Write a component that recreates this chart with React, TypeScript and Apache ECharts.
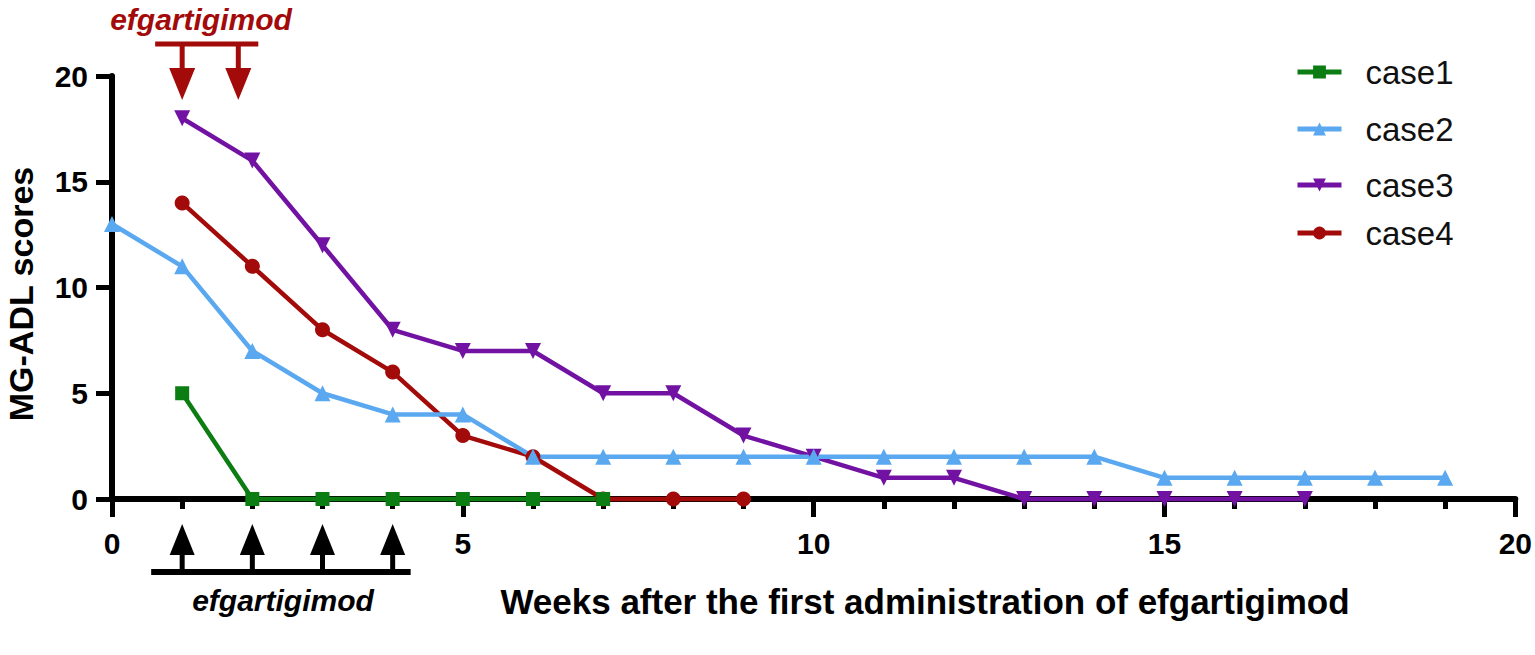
import React, { useEffect, useRef } from "react";
import * as echarts from "echarts";

const weeks1 = [1, 2, 3, 4, 5, 6, 7];
const case1 = [5, 0, 0, 0, 0, 0, 0];
const weeks2 = [0, 1, 2, 3, 4, 5, 6, 7, 8, 9, 10, 11, 12, 13, 14, 15, 16, 17, 18, 19];
const case2 = [13, 11, 7, 5, 4, 4, 2, 2, 2, 2, 2, 2, 2, 2, 2, 1, 1, 1, 1, 1];
const weeks3 = [1, 2, 3, 4, 5, 6, 7, 8, 9, 10, 11, 12, 13, 14, 15, 16, 17];
const case3 = [18, 16, 12, 8, 7, 7, 5, 5, 3, 2, 1, 1, 0, 0, 0, 0, 0];
const weeks4 = [1, 2, 3, 4, 5, 6, 7, 8, 9];
const case4 = [14, 11, 8, 6, 3, 2, 0, 0, 0];

const seriesNames = ["case1", "case2", "case3", "case4"];
const redArrowWeeks = [1, 1.8];
const blackArrowWeeks = [1, 2, 3, 4];

const FONT = "'Liberation Sans', Arial, sans-serif";
const GREEN = "#0b7d12";
const BLUE = "#5aa8f0";
const PURPLE = "#7212a2";
const RED = "#a30a0a";

const pairs = (xs: number[], ys: number[]) => xs.map((x, i) => [x, ys[i]]);

export default function App() {
  const ref = useRef<HTMLDivElement>(null);
  useEffect(() => {
    document.body.style.margin = "0";
    const chart = echarts.init(ref.current!, null, { renderer: "svg" });
    const mk = (name: string, xs: number[], ys: number[], color: string, symbol: string, size: number, rot = 0) => ({
      name,
      type: "line",
      data: pairs(xs, ys),
      clip: false,
      symbol,
      symbolSize: size,
      symbolRotate: rot,
      showAllSymbol: true,
      lineStyle: { color, width: 4.5 },
      itemStyle: { color },
    });
    const legendY = [72, 129, 185, 233];
    const labelStyle = { fontFamily: FONT, fontSize: 30, fontWeight: "bold", color: "#000" };
    chart.setOption({
      animation: false,
      grid: { left: 112, right: 18, top: 76, bottom: 156 },
      legend: seriesNames.map((n, i) => ({
        data: [n],
        orient: "vertical",
        left: 1290,
        top: legendY[i] - 22,
        itemWidth: 44,
        itemHeight: 16,
        lineStyle: { width: 5 },
        textStyle: { fontFamily: FONT, fontSize: 33, lineHeight: 34, color: "#111", padding: [0, 0, 0, 19] },
      })),
      xAxis: {
        type: "value",
        min: 0,
        max: 20,
        interval: 5,
        splitLine: { show: false },
        axisLine: { lineStyle: { color: "#000", width: 6 } },
        axisTick: { length: 18, lineStyle: { color: "#000", width: 5 } },
        minorTick: { show: true, splitNumber: 5, length: 10, lineStyle: { color: "#000", width: 5 } },
        axisLabel: { margin: 29, ...labelStyle },
      },
      yAxis: {
        type: "value",
        min: 0,
        max: 20,
        interval: 5,
        splitLine: { show: false },
        axisLine: { show: true, lineStyle: { color: "#000", width: 6 } },
        axisTick: { show: true, length: 16, lineStyle: { color: "#000", width: 5 } },
        axisLabel: { margin: 24, ...labelStyle },
      },
      series: [
        mk("case4", weeks4, case4, RED, "circle", 15),
        mk("case3", weeks3, case3, PURPLE, "triangle", 16, 180),
        mk("case2", weeks2, case2, BLUE, "triangle", 16),
        mk("case1", weeks1, case1, GREEN, "rect", 14),
      ],
    });

    const px = (x: number) => chart.convertToPixel({ gridIndex: 0 }, [x, 0])[0];
    const top = chart.convertToPixel({ gridIndex: 0 }, [0, 20])[1];
    const base = chart.convertToPixel({ gridIndex: 0 }, [0, 0])[1];
    const g: any[] = [];
    // top red annotation
    const rBarY = top - 32;
    const rx = redArrowWeeks.map(px);
    g.push({ type: "rect", shape: { x: rx[0] - 27, y: rBarY - 2.5, width: rx[rx.length - 1] - rx[0] + 47, height: 5 }, style: { fill: RED } });
    rx.forEach((x) => {
      g.push({ type: "rect", shape: { x: x - 2.5, y: rBarY, width: 5, height: 26 }, style: { fill: RED } });
      g.push({ type: "polygon", shape: { points: [[x - 13, rBarY + 24], [x + 13, rBarY + 24], [x, rBarY + 56]] }, style: { fill: RED } });
    });
    g.push({
      type: "text",
      x: 201,
      y: 19,
      style: { text: "efgartigimod", fill: RED, font: `italic bold 30px ${FONT}`, align: "center", verticalAlign: "middle" },
    });
    // bottom black annotation
    const bx = blackArrowWeeks.map(px);
    const bBarY = base + 73;
    g.push({ type: "rect", shape: { x: bx[0] - 31, y: bBarY - 3, width: bx[bx.length - 1] - bx[0] + 49, height: 6 }, style: { fill: "#000" } });
    bx.forEach((x) => {
      g.push({ type: "rect", shape: { x: x - 2.5, y: base + 50, width: 5, height: 23 }, style: { fill: "#000" } });
      g.push({ type: "polygon", shape: { points: [[x - 12.5, base + 56], [x + 12.5, base + 56], [x, base + 25]] }, style: { fill: "#000" } });
    });
    g.push({
      type: "text",
      x: 283,
      y: base + 101,
      style: { text: "efgartigimod", fill: "#000", font: `italic bold 30px ${FONT}`, align: "center", verticalAlign: "middle" },
    });
    g.push({
      type: "text",
      x: 925,
      y: 601,
      style: { text: "Weeks after the first administration of efgartigimod", fill: "#000", font: `bold 35px ${FONT}`, align: "center", verticalAlign: "middle" },
    });
    g.push({
      type: "text",
      x: 21,
      y: 294,
      rotation: Math.PI / 2,
      style: { text: "MG-ADL scores", fill: "#000", font: `bold 34px ${FONT}`, align: "center", verticalAlign: "middle" },
    });
    chart.setOption({ graphic: g });
    return () => chart.dispose();
  }, []);
  return <div ref={ref} style={{ width: 1535, height: 655 }} />;
}
